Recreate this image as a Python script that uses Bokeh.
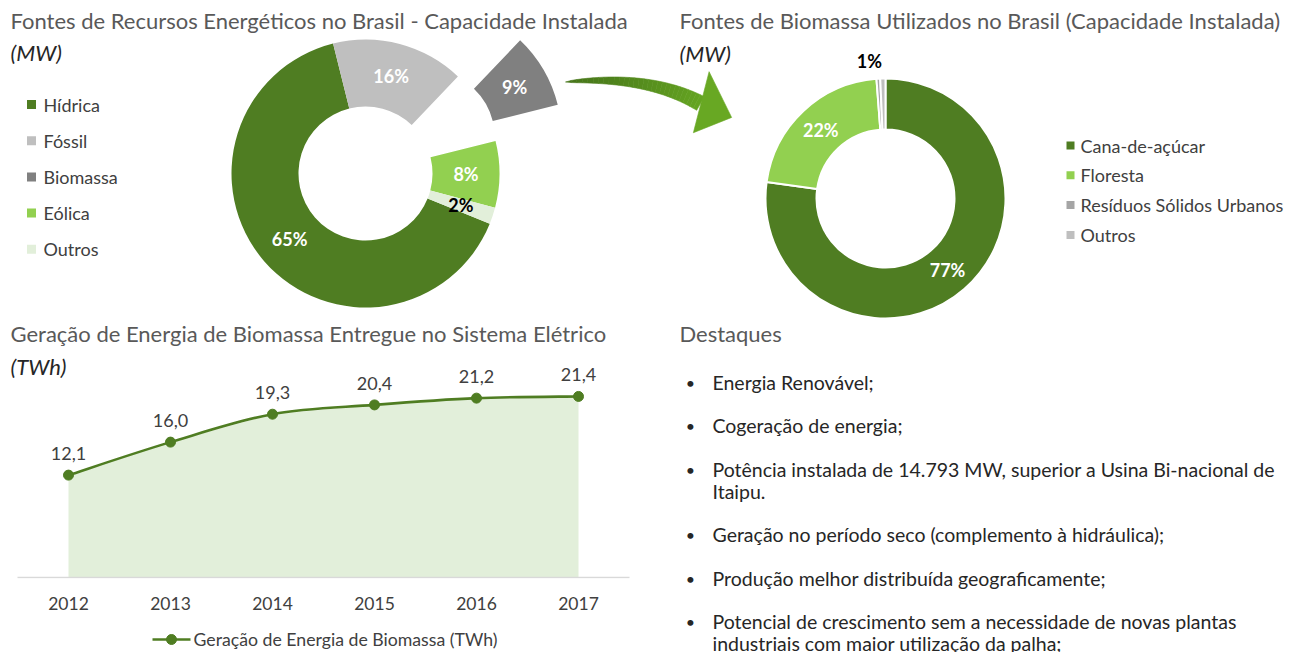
import numpy as np
from bokeh.plotting import figure
from bokeh.models import ColumnDataSource, Range1d, FixedTicker
from bokeh.layouts import column, row
from bokeh.embed import file_html
from bokeh.resources import INLINE
from bokeh.core.properties import value

# ---------------- data ----------------
energy_sources = ["Hídrica", "Fóssil", "Biomassa", "Eólica", "Outros"]
energy_share = [65, 16, 9, 8, 2]

biomass_sources = ["Cana-de-açúcar", "Floresta", "Resíduos Sólidos Urbanos", "Outros"]
biomass_share = [77.2, 21.6, 0.5, 0.7]

years = [2012, 2013, 2014, 2015, 2016, 2017]
generation_twh = [12.1, 16.0, 19.3, 20.4, 21.2, 21.4]
series_name = "Geração de Energia de Biomassa (TWh)"

title_energy = "Fontes de Recursos Energéticos no Brasil - Capacidade Instalada"
title_biomass = "Fontes de Biomassa Utilizados no Brasil (Capacidade Instalada)"
title_generation = "Geração de Energia de Biomassa Entregue no Sistema Elétrico"
unit_mw = "(MW)"
unit_twh = "(TWh)"
title_highlights = "Destaques"
highlights = [
    ["Energia Renovável;"],
    ["Cogeração de energia;"],
    ["Potência instalada de 14.793 MW, superior a Usina Bi-nacional de", "Itaipu."],
    ["Geração no período seco (complemento à hidráulica);"],
    ["Produção melhor distribuída geograficamente;"],
    ["Potencial de crescimento sem a necessidade de novas plantas",
     "industriais com maior utilização da palha;"],
]

# ---------------- style ----------------
FONT = "Lato"
GREEN_DARK = "#4f7d22"
GREEN_LIGHT = "#92d050"
GREEN_PALE = "#e2efda"
TITLE_COLOR = "#595959"
TEXT_COLOR = "#404040"
DARK_TEXT = "#262626"
energy_colors = [GREEN_DARK, "#bfbfbf", "#808080", GREEN_LIGHT, GREEN_PALE]
energy_label_colors = ["white", "white", "white", "white", "black"]
energy_explode = [0, 0, 72, 0, 0]
biomass_colors = [GREEN_DARK, GREEN_LIGHT, "#a5a5a5", "#bfbfbf"]
biomass_label_colors = ["white", "white", "black", "black"]

W = 1290
H_TOP = 320
H_BOT = 332
H_LEG = 26


def X(rx):
    return rx


def Y(ry):
    return H_TOP - ry


def base_fig(width, height, xr, yr, **kw):
    p = figure(width=width, height=height, x_range=xr, y_range=yr,
               output_backend="svg", toolbar_location=None,
               x_axis_location=kw.pop("x_axis_location", None), y_axis_location=None,
               min_border_left=0, min_border_right=0, min_border_top=0,
               min_border_bottom=kw.pop("min_border_bottom", 0), **kw)
    p.outline_line_color = None
    p.background_fill_color = "white"
    p.border_fill_color = "white"
    p.grid.visible = False
    return p


def txt(p, x, y, s, size, color=TEXT_COLOR, style="normal", align="left", baseline="middle", **kw):
    p.text(x=[x], y=[y], text=[s], text_font=value(FONT), text_font_size=size,
           text_color=color, text_font_style=style, text_align=align,
           text_baseline=baseline, **kw)


def donut(p, values, colors, label_colors, cx, cy, r_in, r_out, start_cw, explode,
          line_color=None, line_width=0, font_size="18px", small_offset=(-13, 18)):
    vals = np.asarray(values, dtype=float)
    frac = vals / vals.sum()
    ends = start_cw + np.cumsum(frac) * 360.0
    starts = ends - frac * 360.0
    mids = np.radians((starts + ends) / 2.0)
    ex = np.asarray(explode, dtype=float)
    xs = cx + ex * np.sin(mids)
    ys = cy + ex * np.cos(mids)
    src = ColumnDataSource(dict(x=xs, y=ys,
                                start=np.radians(90.0 - ends),
                                end=np.radians(90.0 - starts),
                                color=colors))
    p.annular_wedge(x="x", y="y", inner_radius=r_in, outer_radius=r_out,
                    start_angle="start", end_angle="end", fill_color="color",
                    line_color=line_color, line_width=line_width, source=src)
    r_mid = (r_in + r_out) / 2.0
    for i, v in enumerate(vals):
        lab = f"{v:.0f}%"
        if round(v) == 0:
            continue
        if frac[i] >= 0.015:
            rl, dx = r_mid, 0
        else:
            rl, dx = r_out + small_offset[1], small_offset[0]
        lx = xs[i] + rl * np.sin(mids[i])
        ly = ys[i] + rl * np.cos(mids[i])
        txt(p, lx, ly, lab, font_size, color=label_colors[i], style="bold",
            align="center", x_offset=dx)


# ================= top panel: two doughnuts =================
p1 = base_fig(W, H_TOP, Range1d(0, W), Range1d(0, H_TOP))

txt(p1, X(10), Y(20), title_energy, "22px", color=TITLE_COLOR)
txt(p1, X(10), Y(52), unit_mw, "22px", color=DARK_TEXT, style="italic")
txt(p1, X(679), Y(20), title_biomass, "22px", color=TITLE_COLOR)
txt(p1, X(679), Y(53), unit_mw, "22px", color=DARK_TEXT, style="italic")

# legend 1
ly1 = [Y(104 + 36.2 * i) for i in range(len(energy_sources))]
p1.scatter(x=[X(31)] * len(ly1), y=ly1, marker="square", size=9,
           fill_color=energy_colors, line_color=None)
p1.text(x=[X(43)] * len(ly1), y=ly1, text=energy_sources, text_font=value(FONT),
        text_font_size="18px", text_color=TEXT_COLOR, text_baseline="middle")

donut(p1, energy_share, energy_colors, energy_label_colors,
      X(365), Y(173), 67, 134, 112, energy_explode)

# curved arrow (decoration)
P0 = np.array([565.0, 81.5]); CC = np.array([648.0, 74.0]); P1 = np.array([700.0, 103.0])
tt = np.linspace(0, 1, 30)
pts = ((1 - tt) ** 2)[:, None] * P0 + (2 * tt * (1 - tt))[:, None] * CC + (tt ** 2)[:, None] * P1
tan = 2 * (1 - tt)[:, None] * (CC - P0) + 2 * tt[:, None] * (P1 - CC)
tan = tan / np.linalg.norm(tan, axis=1)[:, None]
nrm = np.stack([tan[:, 1], -tan[:, 0]], axis=1)
wid = 7.8 * tt ** 0.6
up = pts + wid[:, None] * nrm
lo = pts - wid[:, None] * nrm
c0 = np.array([0x46, 0x75, 0x1a]); c1 = np.array([0x66, 0xa6, 0x22])
qx, qy, qc = [], [], []
for i in range(len(tt) - 1):
    quad = [up[i], up[i + 1], lo[i + 1], lo[i]]
    qx.append([X(q[0]) for q in quad]); qy.append([Y(q[1]) for q in quad])
    c = (c0 + (c1 - c0) * tt[i]).astype(int)
    qc.append("#%02x%02x%02x" % tuple(c))
td = tan[-1]; nd = nrm[-1]
head = [P1 - 8 * td + 32 * nd, P1 + 34 * td + 3 * nd, P1 + 8 * td - 29 * nd]
qx.append([X(q[0]) for q in head]); qy.append([Y(q[1]) for q in head]); qc.append("#68a823")
p1.patches(xs=qx, ys=qy, fill_color=qc, line_color=qc, line_width=0.6)

# legend 2
ly2 = [Y(145 + 29.8 * i) for i in range(len(biomass_sources))]
p1.scatter(x=[X(1070)] * len(ly2), y=ly2, marker="square", size=8,
           fill_color=biomass_colors, line_color=None)
p1.text(x=[X(1080)] * len(ly2), y=ly2, text=biomass_sources, text_font=value(FONT),
        text_font_size="18px", text_color=TEXT_COLOR, text_baseline="middle")

donut(p1, biomass_share, biomass_colors, biomass_label_colors,
      X(885), Y(198), 69, 120, 0, [0] * len(biomass_share),
      line_color="white", line_width=2)

# ================= bottom left: generation line/area =================
SX, SY = 102.0, 8.46
FRAME_BOTTOM = 578            # reference px of the zero line / frame bottom
TOP_P3 = H_TOP                # reference px of the top of this figure
BOT_P3 = 652 - H_LEG          # reference px of bottom of this figure
Y0 = -0.12
x_start = years[0] - 68 / SX
p3 = base_fig(650, BOT_P3 - TOP_P3,
              Range1d(x_start, x_start + 650 / SX),
              Range1d(Y0, Y0 + (FRAME_BOTTOM - TOP_P3) / SY),
              x_axis_location="below", min_border_bottom=(BOT_P3 - FRAME_BOTTOM))


def yd(ry):
    return Y0 + (FRAME_BOTTOM - ry) / SY


def xd(rx):
    return x_start + rx / SX


txt(p3, xd(10), yd(333), title_generation, "22px", color=TITLE_COLOR)
txt(p3, xd(10), yd(366), unit_twh, "22px", color=DARK_TEXT, style="italic")

p3.varea(x=years, y1=[0] * len(years), y2=generation_twh, fill_color=GREEN_PALE)
p3.segment(x0=[years[0] - 0.5], y0=[0], x1=[years[-1] + 0.5], y1=[0],
           line_color="#d9d9d9", line_width=1.5)

# smoothed line (Catmull-Rom -> Bezier control points)
xa = np.asarray(years, float); ya = np.asarray(generation_twh, float)
n = len(xa)
x0s, y0s, x1s, y1s, cx0, cy0, cx1, cy1 = ([] for _ in range(8))
for i in range(n - 1):
    im = max(i - 1, 0); ip2 = min(i + 2, n - 1)
    x0s.append(xa[i]); y0s.append(ya[i]); x1s.append(xa[i + 1]); y1s.append(ya[i + 1])
    cx0.append(xa[i] + (xa[i + 1] - xa[im]) / 6); cy0.append(ya[i] + (ya[i + 1] - ya[im]) / 6)
    cx1.append(xa[i + 1] - (xa[ip2] - xa[i]) / 6); cy1.append(ya[i + 1] - (ya[ip2] - ya[i]) / 6)
p3.bezier(x0=x0s, y0=y0s, x1=x1s, y1=y1s, cx0=cx0, cy0=cy0, cx1=cx1, cy1=cy1,
          line_color=GREEN_DARK, line_width=2.6)
p3.scatter(x=years, y=generation_twh, size=10, fill_color=GREEN_DARK,
           line_color=GREEN_DARK)
p3.text(x=years, y=generation_twh,
        text=[f"{v:.1f}".replace(".", ",") for v in generation_twh],
        text_font=value(FONT), text_font_size="18px", text_color=TEXT_COLOR,
        text_align="center", text_baseline="bottom", y_offset=-15)

ax = p3.xaxis[0]
ax.ticker = FixedTicker(ticks=years)
ax.axis_line_color = None
ax.major_tick_line_color = None
ax.minor_tick_line_color = None
ax.major_tick_out = 0
ax.major_tick_in = 0
ax.major_label_standoff = 18
ax.major_label_text_font = FONT
ax.major_label_text_font_size = "17.5px"
ax.major_label_text_color = TEXT_COLOR

# legend strip under the line chart
pl = base_fig(650, H_LEG, Range1d(0, 650), Range1d(652, BOT_P3))
LEG_Y = 639
pl.line(x=[152, 190], y=[LEG_Y, LEG_Y], line_color=GREEN_DARK, line_width=2.6)
pl.scatter(x=[171], y=[LEG_Y], size=10, fill_color=GREEN_DARK, line_color=GREEN_DARK)
txt(pl, 193, LEG_Y, series_name, "17.7px", color=TEXT_COLOR)

# ================= bottom right: highlights =================
p4 = base_fig(W - 650, H_BOT, Range1d(650, W), Range1d(652, H_TOP))
txt(p4, 679, 333, title_highlights, "22px", color=TITLE_COLOR)
yy = 381.5
for item in highlights:
    txt(p4, 690, yy, "•", "16px", color=DARK_TEXT, align="center")
    for k, line in enumerate(item):
        txt(p4, 712, yy + 22 * k, line, "19.5px", color=DARK_TEXT)
    yy += 43.5 + 22 * (len(item) - 1)

layout = column(p1, row(column(p3, pl), p4))
open("out.html", "w").write(file_html(layout, INLINE))
